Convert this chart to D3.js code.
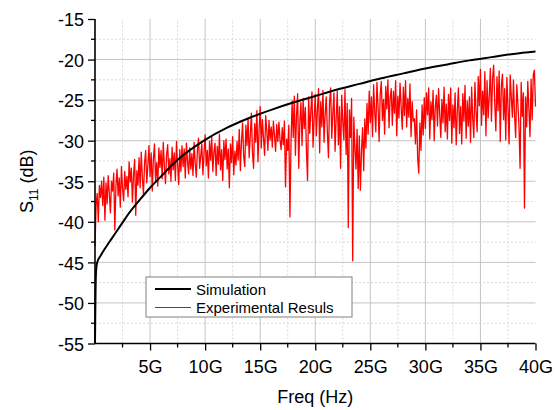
<!DOCTYPE html>
<html>
<head>
<meta charset="utf-8">
<script src="https://cdn.jsdelivr.net/npm/d3@7"></script>
<style>
  body { margin: 0; background: #fff; }
  svg { display: block; font-family: "Liberation Sans", Arial, sans-serif; }
</style>
</head>
<body>
<div id="viz"></div>
<script>
// simulated S11 (freq in GHz, dB)
const simFreq = [0, 0.02, 0.05, 0.1, 0.2, 0.5, 1, 1.5, 2, 2.5, 3, 4, 5, 6, 7, 8, 9, 10, 12, 14, 16, 18, 20, 22, 24, 26, 28, 30, 32, 34, 36, 38, 40];
const simDb = [-55, -52, -48.5, -46, -45, -44.2, -43.1, -42.1, -41.1, -40.1, -39.1, -37.4, -35.8, -34.4, -33.0, -31.8, -30.8, -29.9, -28.4, -27.2, -26.2, -25.3, -24.5, -23.7, -23.0, -22.3, -21.7, -21.1, -20.6, -20.1, -19.7, -19.3, -19.0];

// measured S11, one value per 0.1 GHz from 0 to 40 GHz
const expStep = 0.1;
const expDb = [
  -43, -38, -36.5, -40, -35.5, -37, -35, -38, -34.5, -39.8,
  -35.2, -37.8, -34.3, -36.5, -38.9, -35, -36.2, -34, -41, -35.6,
  -33.5, -36.8, -34.6, -38.2, -33.2, -35.9, -37.4, -33.8, -36, -34.4,
  -36.9, -32.6, -35.1, -33.4, -37.6, -34.2, -32.3, -39.2, -33.7, -35.5,
  -32.1, -35.8, -31.4, -34.6, -36.6, -32.8, -31.2, -35.2, -33.1, -30.6,
  -34.4, -31.5, -36.2, -32.3, -30.4, -34.9, -32.7, -35.6, -30.9, -33.3,
  -31.2, -34.7, -30.2, -33.1, -35.3, -31.7, -30.5, -34.1, -32.2, -35,
  -30.8, -33.6, -31.5, -34.9, -30.1, -32.9, -35.4, -31.1, -33.8, -30.6,
  -33.2, -31, -34.6, -30.3, -32.5, -34.1, -30.9, -33.5, -31.6, -34.3,
  -30.2, -32.8, -34.5, -31.1, -29.7, -33.4, -31.9, -30.4, -34.2, -31.5,
  -29.3, -33.1, -31.2, -34.6, -30.1, -32.4, -29.6, -33.8, -31.4, -30.3,
  -34.3, -30.7, -32.9, -29.2, -33.6, -31.1, -34.9, -30, -32.3, -29.8,
  -33.5, -31, -35.8, -30.4, -32.7, -29.5, -34.2, -31.3, -33, -30.1,
  -32.4, -28.6, -33.7, -30.2, -27.8, -31.9, -33.2, -28.1, -30.6, -27.3,
  -32.1, -29.4, -26.6, -31.5, -33.4, -27.9, -30.2, -26.3, -32.6, -28.7,
  -25.8, -30.9, -27.4, -29.6, -31.8, -26.9, -28.8, -31.2, -27.5, -29.9,
  -28.3, -30.8, -27.6, -29.4, -31.3, -28, -30.1, -27.7, -29.9, -31.1,
  -28.4, -30.5, -27.6, -35.7, -29.8, -31.2, -28.1, -39.4, -30.2, -25.1,
  -29.6, -24.5, -31.8, -26.9, -24.2, -33.4, -27.7, -25.3, -30.6, -24.8,
  -28.5, -25.9, -31.2, -34.9, -24.6, -29.1, -26.4, -24, -30.8, -27.2,
  -24.3, -29.4, -26.1, -23.6, -31.5, -25.2, -28.3, -23.8, -30.2, -26.7,
  -24.6, -28.9, -32.1, -25.3, -23.5, -29.7, -26.5, -24.1, -31.3, -27.2,
  -23.9, -30.5, -25.8, -33.4, -24.4, -27.6, -29.9, -23.7, -31.7, -25.4,
  -40.7, -26.2, -29.6, -24.8, -44.8, -27.1, -30.8, -33.5, -28.6, -35.9,
  -29.4, -36.1, -31.2, -28.4, -33.7, -27.3, -30.9, -25.4, -29.2, -23.9,
  -27.8, -24.6, -29.5, -23.1, -26.4, -28.9, -22.8, -25.7, -30.1, -24.2,
  -22.7, -27.5, -24.9, -29.2, -23.3, -26.1, -22.5, -28.4, -24.7, -23.6,
  -28.1, -23.9, -26.6, -22.6, -29.4, -24.5, -27.2, -22.9, -25.8, -28.6,
  -23.4, -26.9, -22.6, -28.3, -24.8, -27.1, -23, -29.5, -25.2, -27.6,
  -27.3, -30.4, -26.2, -32.1, -34, -27.8, -31.2, -25.6, -29.3, -24.7,
  -28.5, -24.1, -26.8, -23.5, -29.8, -25.2, -27.4, -23.8, -30, -25.9,
  -24.4, -28.2, -23.6, -26.7, -29.6, -24.9, -27.8, -23.4, -28.9, -25.5,
  -29.8, -24.3, -27.5, -23.5, -30.3, -25.6, -28.4, -24.1, -30.5, -26.3,
  -23.5, -29.1, -25.8, -30.4, -24.2, -27.6, -23.2, -29.7, -25.1, -28.2,
  -24.6, -30.2, -23.4, -27.3, -29.6, -22.8, -26.4, -28.9, -22.1, -25.7,
  -21.2, -28.1, -23.9, -26.8, -21.5, -29.4, -22.6, -27.2, -24.5, -21.1,
  -27.6, -22.3, -20.7, -25.4, -28.8, -22.1, -26.3, -21.4, -30.1, -23.2,
  -21.8, -27.4, -23.6, -29.9, -22.2, -25.8, -30.4, -21.9, -24.6, -27.1,
  -22.5, -26.9, -29.6, -23.1, -25.4, -28.2, -33.4, -22.8, -27, -24.1,
  -38.3, -24.6, -28.3, -22.7, -26.1, -29.5, -22.4, -27.4, -21.9, -21.3,
  -25.8
];

const xMajor = [5, 10, 15, 20, 25, 30, 35, 40];
const xMinor = [2.5, 7.5, 12.5, 17.5, 22.5, 27.5, 32.5, 37.5];
const yMajor = [-55, -50, -45, -40, -35, -30, -25, -20, -15];
const yMinor = [-52.5, -47.5, -42.5, -37.5, -32.5, -27.5, -22.5, -17.5];
const seriesNames = ["Simulation", "Experimental Resuls"];
const seriesColors = ["#000000", "#ff0000"];

const WIDTH = 555, HEIGHT = 410;
const svg = d3.select("#viz").append("svg")
  .attr("width", WIDTH)
  .attr("height", HEIGHT);

const x = d3.scaleLinear().domain([0, 40]).range([95, 535.5]);
const y = d3.scaleLinear().domain([-55, -15]).range([343.5, 19]);

// grid
const grid = svg.append("g");
grid.selectAll(".vminor").data(xMinor).join("line")
  .attr("x1", d => x(d)).attr("x2", d => x(d))
  .attr("y1", y(-55)).attr("y2", y(-15))
  .attr("stroke", "#d8d8d8").attr("stroke-dasharray", "2,2");
grid.selectAll(".hminor").data(yMinor).join("line")
  .attr("x1", x(0)).attr("x2", x(40))
  .attr("y1", d => y(d)).attr("y2", d => y(d))
  .attr("stroke", "#d8d8d8").attr("stroke-dasharray", "2,2");
grid.selectAll(".vmajor").data(xMajor.filter(d => d < 40)).join("line")
  .attr("x1", d => x(d)).attr("x2", d => x(d))
  .attr("y1", y(-55)).attr("y2", y(-15))
  .attr("stroke", "#c4c4c4");
grid.selectAll(".hmajor").data(yMajor.filter(d => d > -55 && d < -15)).join("line")
  .attr("x1", x(0)).attr("x2", x(40))
  .attr("y1", d => y(d)).attr("y2", d => y(d))
  .attr("stroke", "#c4c4c4");

// series
const expData = expDb.map((v, i) => [i * expStep, v]);
const simData = simFreq.map((f, i) => [f, simDb[i]]);
const line = d3.line().x(d => x(d[0])).y(d => y(d[1]));

svg.append("path").datum(expData)
  .attr("d", line)
  .attr("fill", "none")
  .attr("stroke", seriesColors[1])
  .attr("stroke-width", 1.3)
  .attr("stroke-linejoin", "round");

svg.append("path").datum(simData)
  .attr("d", d3.line().x(d => x(d[0])).y(d => y(d[1])).curve(d3.curveMonotoneX))
  .attr("fill", "none")
  .attr("stroke", seriesColors[0])
  .attr("stroke-width", 2);

// axes
const xAxis = svg.append("g")
  .attr("transform", `translate(0,${y(-55)})`)
  .call(d3.axisBottom(x).tickValues(xMajor).tickSize(7).tickFormat(d => d + "G"));
const yAxis = svg.append("g")
  .attr("transform", `translate(${x(0)},0)`)
  .call(d3.axisLeft(y).tickValues(yMajor).tickSize(7).tickFormat(d => String(d)));

[xAxis, yAxis].forEach(g => {
  g.select(".domain").attr("stroke", "#000").attr("stroke-width", 1.6);
  g.selectAll(".tick line").attr("stroke", "#000").attr("stroke-width", 1.3);
  g.selectAll("text").attr("fill", "#000")
    .style("font-family", "'Liberation Sans', Arial, sans-serif");
});
xAxis.select(".domain").attr("d", `M${x(0)},0H${x(40)}`);
yAxis.select(".domain").attr("d", `M0,${y(-55)}V${y(-15)}`);
xAxis.selectAll("text").style("font-size", "18px").attr("dy", "1.1em");
yAxis.selectAll("text").style("font-size", "18px").attr("x", -11).attr("dy", "0.38em");

svg.append("g").selectAll("line").data(xMinor).join("line")
  .attr("x1", d => x(d)).attr("x2", d => x(d))
  .attr("y1", y(-55)).attr("y2", y(-55) + 4)
  .attr("stroke", "#000").attr("stroke-width", 1.3);
svg.append("g").selectAll("line").data(yMinor).join("line")
  .attr("x1", x(0) - 4).attr("x2", x(0))
  .attr("y1", d => y(d)).attr("y2", d => y(d))
  .attr("stroke", "#000").attr("stroke-width", 1.3);

// axis titles
svg.append("text")
  .attr("x", (x(0) + x(40)) / 2)
  .attr("y", 403)
  .attr("text-anchor", "middle")
  .style("font-size", "18px")
  .text("Freq (Hz)");

const yTitle = svg.append("text")
  .attr("transform", `translate(33,${(y(-55) + y(-15)) / 2}) rotate(-90)`)
  .attr("text-anchor", "middle")
  .style("font-size", "18px");
yTitle.append("tspan").text("S");
yTitle.append("tspan").attr("dy", 5).style("font-size", "12px").text("11");
yTitle.append("tspan").attr("dy", -5).text(" (dB)");

// legend
const legend = svg.append("g").attr("transform", "translate(146,277)");
legend.append("rect")
  .attr("width", 206).attr("height", 40)
  .attr("fill", "#fff").attr("stroke", "#808080").attr("stroke-width", 1);
seriesNames.forEach((name, i) => {
  const yy = 12 + i * 18.5;
  legend.append("line")
    .attr("x1", 9).attr("x2", 45).attr("y1", yy).attr("y2", yy)
    .attr("stroke", seriesColors[i]).attr("stroke-width", i === 0 ? 2 : 1.2);
  legend.append("text")
    .attr("x", 50).attr("y", yy + 5.5)
    .style("font-size", "15px")
    .text(name);
});
</script>
</body>
</html>
